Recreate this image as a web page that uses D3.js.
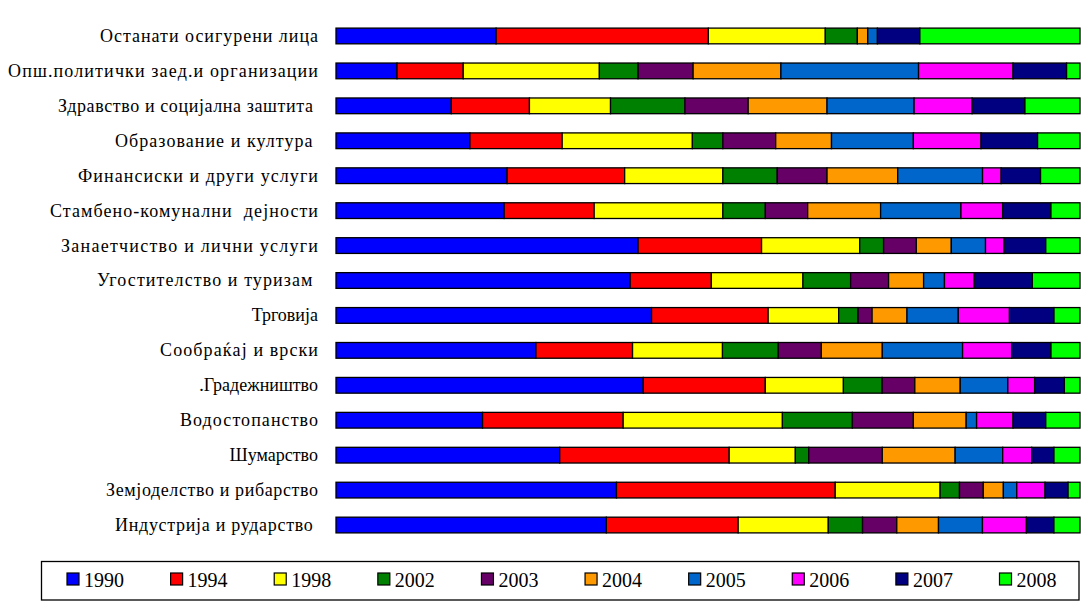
<!DOCTYPE html>
<html>
<head>
<meta charset="utf-8">
<script src="https://cdn.jsdelivr.net/npm/d3@7/dist/d3.min.js"></script>
<style>
  html, body { margin: 0; padding: 0; background: #fff; }
  svg text { white-space: pre; }
</style>
</head>
<body>
<svg id="chart" width="1089" height="613"></svg>
<script>
const categories = [
  "Останати осигурени лица",
  "Опш.политички заед.и организации",
  "Здравство и социјална заштита ",
  "Образование и култура ",
  "Финансиски и други услуги",
  "Стамбено-комунални  дејности",
  "Занаетчиство и лични услуги",
  "Угостителство и туризам ",
  "Трговија",
  "Сообраќај и врски",
  ".Градежништво",
  "Водостопанство",
  "Шумарство",
  "Земјоделство и рибарство",
  "Индустрија и рударство "
];
const years = ["1990","1994","1998","2002","2003","2004","2005","2006","2007","2008"];
const colors = ["#0000FF","#FF0000","#FFFF00","#008000","#660066","#FF9900","#0066CC","#FF00FF","#000080","#00FF00"];

// percentage shares per category, one array per year (series)
const s1990 = [21.5, 8.2, 15.5, 18.0, 23.0, 22.6, 40.6, 39.5, 42.5, 26.9, 41.3, 19.7, 30.1, 37.7, 36.3];
const s1994 = [28.5, 8.9, 10.5, 12.4, 15.8, 12.1, 16.6, 10.9, 15.7, 13.0, 16.4, 18.9, 22.8, 29.4, 17.7];
const s1998 = [15.7, 18.3, 10.9, 17.5, 13.2, 17.3, 13.2, 12.3, 9.5, 12.1, 10.5, 21.4, 8.9, 14.1, 12.1];
const s2002 = [4.3, 5.2, 10.0, 4.1, 7.3, 5.7, 3.2, 6.4, 2.6, 7.5, 5.2, 9.4, 1.8, 2.6, 4.6];
const s2003 = [0.0, 7.4, 8.5, 7.1, 6.7, 5.7, 4.4, 5.1, 1.9, 5.8, 4.4, 8.2, 9.9, 3.2, 4.6];
const s2004 = [1.4, 11.8, 10.6, 7.5, 9.5, 9.8, 4.7, 4.7, 4.7, 8.2, 6.1, 7.1, 9.8, 2.7, 5.6];
const s2005 = [1.3, 18.5, 11.7, 11.0, 11.4, 10.8, 4.6, 2.8, 6.9, 10.8, 6.4, 1.4, 6.4, 1.8, 5.9];
const s2006 = [0.0, 12.7, 7.8, 9.1, 2.5, 5.6, 2.5, 4.0, 6.9, 6.6, 3.6, 4.9, 3.9, 3.8, 5.9];
const s2007 = [5.7, 7.2, 7.1, 7.6, 5.3, 6.5, 5.6, 7.8, 6.0, 5.3, 4.0, 4.4, 3.0, 3.1, 3.7];
const s2008 = [21.5, 1.8, 7.4, 5.7, 5.3, 3.9, 4.6, 6.4, 3.5, 3.9, 2.1, 4.6, 3.5, 1.6, 3.5];

const series = [s1990, s1994, s1998, s2002, s2003, s2004, s2005, s2006, s2007, s2008];

// layout: target width of each category label (the source spaces its letters a little wider)
const labelWidths = [218, 310, 260, 203, 240, 268, 257, 221, 60, 158, 110, 138, 70, 212, 203];

const table = categories.map((c, i) => {
  const row = { category: c };
  years.forEach((y, j) => { row[y] = series[j][i]; });
  return row;
});

const svg = d3.select("#chart");
const x = d3.scaleLinear().domain([0, 1]).range([336, 1080]);
const y = d3.scaleBand().domain(categories).range([18.5, 542.5]).paddingInner(0.55).paddingOuter(0.275);
const color = d3.scaleOrdinal().domain(years).range(colors);

const stacked = d3.stack().keys(years).offset(d3.stackOffsetExpand)(table);

const g = svg.append("g");
g.selectAll("g.layer")
  .data(stacked)
  .join("g")
  .attr("class", "layer")
  .attr("fill", d => color(d.key))
  .selectAll("rect")
  .data(d => d)
  .join("rect")
  .attr("x", d => x(d[0]))
  .attr("y", d => y(d.data.category))
  .attr("width", d => Math.max(0, x(d[1]) - x(d[0])))
  .attr("height", y.bandwidth())
  .attr("stroke", "#000")
  .attr("stroke-width", d => (d[1] - d[0]) > 0 ? 1.3 : 0);

// category labels
const yAxis = d3.axisLeft(y).tickSize(0).tickPadding(0);
const ax = svg.append("g").attr("transform", "translate(318,0)").call(yAxis);
ax.attr("font-family", null).attr("font-size", null);
ax.select(".domain").remove();
ax.selectAll("text")
  .attr("font-family", "'Liberation Serif', 'Times New Roman', serif")
  .attr("font-size", 18)
  .attr("fill", "#000")
  .attr("dy", "0.33em")
  .each(function(d, i) {
    const natural = this.getComputedTextLength();
    if (labelWidths[i] > natural) {
      d3.select(this).attr("textLength", labelWidths[i]).attr("lengthAdjust", "spacing");
    }
  });

// legend
const legend = svg.append("g");
legend.append("rect")
  .attr("x", 41.5).attr("y", 561.5).attr("width", 1037.5).attr("height", 38.5)
  .attr("fill", "#fff").attr("stroke", "#000").attr("stroke-width", 1.3);
const lx = d3.scaleLinear().domain([0, years.length - 1]).range([67, 999.5]);
const items = legend.selectAll("g.item").data(years).join("g")
  .attr("class", "item")
  .attr("transform", (d, i) => `translate(${lx(i)},573)`);
items.append("rect")
  .attr("width", 12).attr("height", 12)
  .attr("fill", d => color(d)).attr("stroke", "#000").attr("stroke-width", 1.2);
items.append("text")
  .attr("x", 17).attr("y", 13.5)
  .attr("font-family", "'Liberation Serif', 'Times New Roman', serif")
  .attr("font-size", 20)
  .attr("fill", "#000")
  .text(d => d);
</script>
</body>
</html>
